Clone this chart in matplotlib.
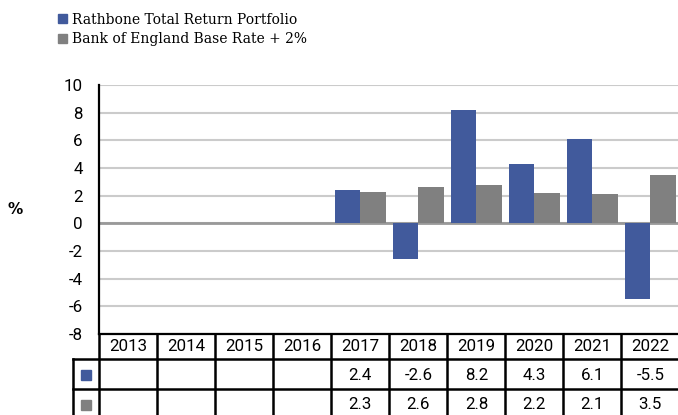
import matplotlib
matplotlib.use("Agg")
import matplotlib.pyplot as plt
import matplotlib.transforms as mtransforms
import numpy as np

years = ["2013", "2014", "2015", "2016", "2017", "2018", "2019", "2020", "2021", "2022"]
rathbone = [None, None, None, None, 2.4, -2.6, 8.2, 4.3, 6.1, -5.5]
base_rate = [None, None, None, None, 2.3, 2.6, 2.8, 2.2, 2.1, 3.5]
series_names = ["Rathbone Total Return Portfolio", "Bank of England Base Rate + 2%"]
yticks = [10, 8, 6, 4, 2, 0, -2, -4, -6, -8]

BLUE = "#415A9C"
GRAY = "#808080"
W, H = 678, 415
NUM_FONT = "Roboto"
NUM_SIZE = 12.2
NUM_WEIGHT = "normal"

fig = plt.figure(figsize=(W / 100, H / 100), dpi=100)
ax = fig.add_axes([99.4 / W, 1 - 334 / H, 580 / W, 249 / H])

x = np.arange(len(years))
bw = 0.44
rv = [np.nan if v is None else v for v in rathbone]
bv = [np.nan if v is None else v for v in base_rate]
ax.bar(x - bw / 2, rv, width=bw, color=BLUE, zorder=3)
ax.bar(x + bw / 2, bv, width=bw, color=GRAY, zorder=3)

ax.set_xlim(-0.5, len(years) - 0.5)
ax.set_ylim(-8, 10)
ax.set_yticks(yticks)
ax.set_yticklabels([str(t) for t in yticks], fontsize=NUM_SIZE, family=NUM_FONT, fontweight=NUM_WEIGHT)
ax.tick_params(axis="y", length=0, pad=12)
ax.set_xticks([])
ax.grid(axis="y", color="#CBCBCB", linewidth=1.5, zorder=0)
ax.axhline(0, color="#999999", linewidth=2, zorder=2)
for s in ["top", "right"]:
    ax.spines[s].set_visible(False)
ax.spines["left"].set_linewidth(1.6)
ax.spines["bottom"].set_linewidth(1.6)
ax.spines["left"].set_color("black")
ax.spines["bottom"].set_color("black")

fig.text(15 / W, 1 - 210 / H, "%", fontsize=11, fontweight="bold", ha="center", va="center")

# table below the plot
tr = mtransforms.blended_transform_factory(ax.transData, fig.transFigure)
def fy(p):
    return 1 - p / H
key_left = -0.5 + (73.3 - 99.4) / 58.0
lw = 1.8
for k in range(len(years) + 1):
    ax.plot([k - 0.5, k - 0.5], [fy(334), fy(420)], transform=tr, color="black", lw=lw, clip_on=False)
ax.plot([key_left, key_left], [fy(359), fy(420)], transform=tr, color="black", lw=lw, clip_on=False)
for yy in [359, 389]:
    ax.plot([key_left, len(years) - 0.5 + 0.05], [fy(yy), fy(yy)], transform=tr, color="black", lw=lw, clip_on=False)

for i, yr in enumerate(years):
    ax.text(i, fy(346.5), yr, transform=tr, ha="center", va="center", fontsize=NUM_SIZE,
            family=NUM_FONT, fontweight=NUM_WEIGHT)
for row_y, vals, col in [(375, rathbone, BLUE), (404.5, base_rate, GRAY)]:
    kx = (key_left + -0.5) / 2
    ax.plot([kx], [fy(row_y)], transform=tr, marker="s", markersize=7.5, color=col, clip_on=False, linestyle="none")
    for i, v in enumerate(vals):
        if v is not None:
            ax.text(i, fy(row_y), f"{v:.1f}", transform=tr, ha="center", va="center",
                    fontsize=NUM_SIZE, family=NUM_FONT, fontweight=NUM_WEIGHT)

# legend
for name, col, yy in [(series_names[0], BLUE, 19), (series_names[1], GRAY, 39)]:
    fig.patches.append(plt.Rectangle((57.5 / W, fy(yy + 4.5)), 9 / W, 9 / H, transform=fig.transFigure,
                                     color=col, figure=fig))
    fig.text(72 / W, fy(yy + 0.5), name, fontsize=10, family="DejaVu Serif", va="center", ha="left")

fig.savefig("out.png", dpi=100)
